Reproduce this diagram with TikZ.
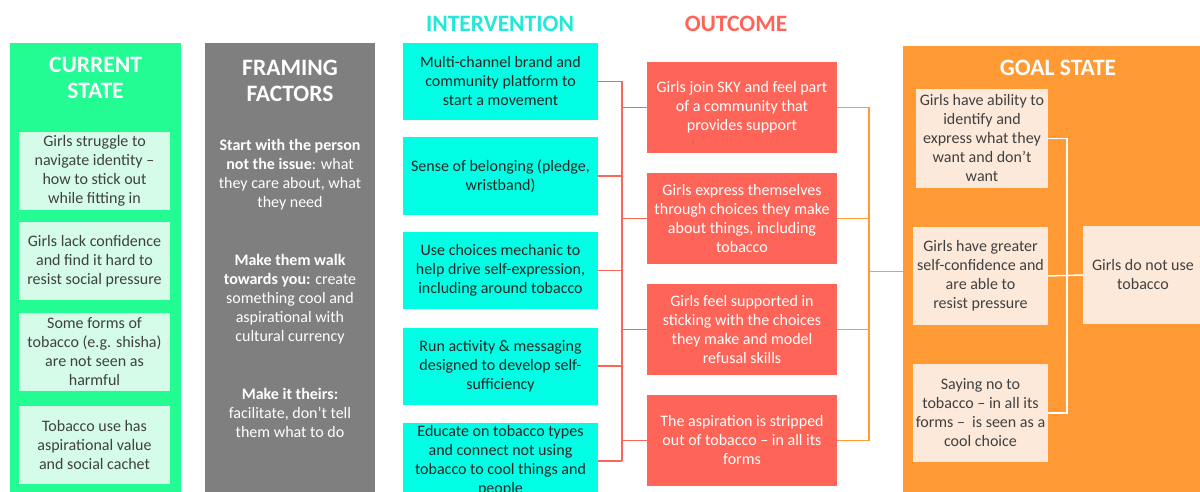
\documentclass[tikz,border=0pt]{standalone}
\usepackage{fontspec}
\setmainfont{Carlito}
\usepackage[HTML]{xcolor}
\usetikzlibrary{positioning, calc}

\definecolor{curgreen}{HTML}{22FC93}
\definecolor{curlight}{HTML}{D4FCE9}
\definecolor{framegray}{HTML}{7F7F7F}
\definecolor{intcyan}{HTML}{00FFE4}
\definecolor{inthead}{HTML}{22E8D8}
\definecolor{outred}{HTML}{FF6459}
\definecolor{goalorange}{HTML}{FF9A35}
\definecolor{goallight}{HTML}{FDE9D9}
\definecolor{txtgray}{HTML}{404040}

\begin{document}
\begin{tikzpicture}[x=1pt, y=-1pt,
  body/.style={font=\fontsize{16}{19}\selectfont, align=center, inner sep=0pt},
  panel/.style={anchor=north west, inner sep=0pt},
  title/.style={font=\fontsize{23.5}{25.5}\selectfont\bfseries, text=white, align=center},
  head/.style={font=\fontsize{23.5}{25.5}\selectfont\bfseries},
  curbox/.style={body, fill=curlight, text=txtgray, minimum width=151pt, minimum height=78pt},
  intbox/.style={body, fill=intcyan, text=black!85, minimum width=195pt, minimum height=77pt},
  outbox/.style={body, fill=outred, text=white, minimum width=190pt, minimum height=91pt},
  goalbox/.style={body, fill=goallight, text=txtgray, minimum width=135pt, minimum height=98pt},
  redline/.style={outred, line width=1.5pt},
  orangeline/.style={goalorange, line width=1.2pt},
  whiteline/.style={white, line width=1.5pt}]
\useasboundingbox (0,0) rectangle (1200,492);
\clip (0,0) rectangle (1200,492);

% Panels
\node[panel, fill=curgreen, minimum width=171pt, minimum height=460pt] (cur) at (10,43) {};
\node[panel, fill=framegray, minimum width=170pt, minimum height=460pt] (frame) at (205,43) {};
\node[panel, fill=goalorange, minimum width=300pt, minimum height=450pt] (goal) at (903,46) {};

% Titles
\node[title] at (95.5,78) {CURRENT\\STATE};
\node[title] at (290,81) {FRAMING\\FACTORS};
\node[title] at (1058,68) {GOAL STATE};
\node[head, text=inthead] at (500,24) {INTERVENTION};
\node[head, text=outred] at (736,24) {OUTCOME};

% Current state
\foreach \i/\y/\txt in {1/171/{Girls struggle to\\navigate identity --\\how to stick out\\while fitting in},
  2/261/{Girls lack confidence\\and find it hard to\\resist social pressure},
  3/352/{Some forms of\\tobacco (e.g. shisha)\\are not seen as\\harmful},
  4/445/{Tobacco use has\\aspirational value\\and social cachet}}{
  \node[curbox] (c\i) at (94.5,\y) {\txt};
}

% Framing factors
\node[body, text=white] (f1) at (290,175) {\textbf{Start with the person}\\\textbf{not the issue}: what\\they care about, what\\they need};
\node[body, text=white] (f2) at (290,299) {\textbf{Make them walk}\\\textbf{towards you:} create\\something cool and\\aspirational with\\cultural currency};
\node[body, text=white] (f3) at (290,413) {\textbf{Make it theirs:}\\facilitate, don’t tell\\them what to do};

% Intervention
\foreach \i/\y/\txt in {1/81.5/{Multi-channel brand and\\community platform to\\start a movement},
  2/176/{Sense of belonging (pledge,\\wristband)},
  3/270.5/{Use choices mechanic to\\help drive self-expression,\\including around tobacco},
  4/366/{Run activity \& messaging\\designed to develop self-\\sufficiency},
  5/461/{Educate on tobacco types\\and connect not using\\tobacco to cool things and\\people}}{
  \node[intbox] (i\i) at (500.5,\y) {\txt};
}

% Outcome
\foreach \i/\y/\txt in {1/107.5/{Girls join SKY and feel part\\of a community that\\provides support},
  2/218.5/{Girls express themselves\\through choices they make\\about things, including\\tobacco},
  3/329.5/{Girls feel supported in\\sticking with the choices\\they make and model\\refusal skills},
  4/440.5/{The aspiration is stripped\\out of tobacco -- in all its\\forms}}{
  \node[outbox] (o\i) at (742,\y) {\txt};
}

% Goal state
\node[goalbox, minimum width=132pt, minimum height=99pt] (g1) at (982,138.5) {Girls have ability to\\identify and\\express what they\\want and don’t\\want};
\node[goalbox] (g2) at (980.5,276) {Girls have greater\\self-confidence and\\are able to\\resist pressure};
\node[goalbox] (g3) at (980.5,413) {Saying no to\\tobacco -- in all its\\forms --\ \ is seen as a\\cool choice};
\node[goalbox, minimum width=120pt] (fin) at (1143,275) {Girls do not use\\tobacco};

% Buses
\coordinate (rbus) at (622,0);
\coordinate (obus) at (869,0);
\coordinate (wbus) at (1067,0);

% Intervention -> outcome
\foreach \i in {1,...,5}{
  \draw[redline] (i\i.east) -- (i\i.east -| rbus);
}
\draw[redline] (i1.east -| rbus) -- (i5.east -| rbus);
\foreach \i in {1,...,4}{
  \draw[redline] (o\i.west -| rbus) -- (o\i.west);
}

% Outcome -> goal
\foreach \i in {1,...,4}{
  \draw[orangeline] (o\i.east) -- (o\i.east -| obus);
}
\draw[orangeline] (o1.east -| obus) -- (o4.east -| obus);
\draw[orangeline] (goal.west -| obus) -- (goal.west);

% Goal boxes -> final
\draw[whiteline] (g1.east) -- (g1.east -| wbus) -- (g3.east -| wbus) -- (g3.east);
\draw[whiteline] (g2.east) -- (fin.west);
\end{tikzpicture}
\end{document}
